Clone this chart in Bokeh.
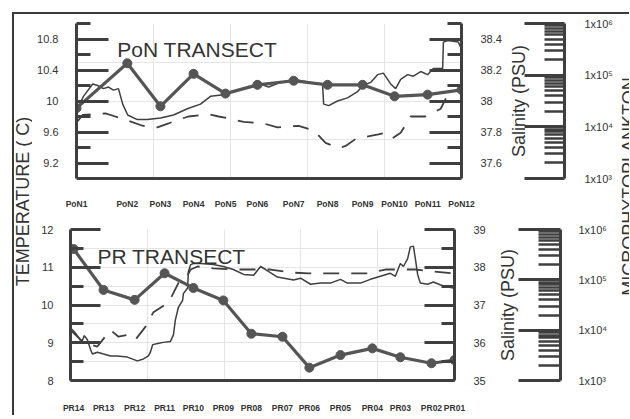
import math
from bokeh.plotting import figure
from bokeh.models import Range1d, LogScale, LinearAxis, FixedTicker, Label
from bokeh.layouts import row, column
from bokeh.embed import file_html
from bokeh.resources import INLINE

# ---------------- data ----------------
pon_stations = ["PoN1", "PoN2", "PoN3", "PoN4", "PoN5", "PoN6", "PoN7", "PoN8", "PoN9", "PoN10", "PoN11", "PoN12"]
pon_dist = [0, 13.2, 21.8, 30.4, 38.7, 47.0, 56.4, 65.2, 74.3, 82.6, 91.2, 100]
pon_plankton = [2.3e4, 1.7e5, 2.5e4, 1.06e5, 4.4e4, 6.5e4, 7.8e4, 6.5e4, 6.5e4, 3.9e4, 4.2e4, 5.2e4]

pon_sal_x = [0.3, 1.8, 4.2, 5.5, 7.0, 8.3, 9.6, 10.9, 12.0, 13.3, 15.8, 18.4, 21.8, 25.2, 28.8, 32.2,
             34.8, 38.2, 41.8, 45.2, 47.8, 49.9, 53.0, 56.4, 60.8, 63.9, 64.2, 65.5, 67.8, 70.4, 73.0,
             74.3, 76.4, 78.2, 79.7, 81.6, 82.9, 84.2, 86.0, 87.5, 89.4, 91.2, 92.7, 95.1, 95.3, 96.4,
             99.2, 99.7]
pon_sal = [37.95, 38.03, 38.11, 38.10, 38.08, 38.09, 38.07, 38.08, 37.98, 37.91, 37.88, 37.88, 37.89,
           37.91, 37.95, 37.98, 38.03, 38.04, 38.07, 38.09, 38.11, 38.09, 38.12, 38.14, 38.12, 38.11,
           37.98, 37.97, 38.00, 38.02, 38.06, 38.10, 38.12, 38.17, 38.18, 38.11, 38.08, 38.14, 38.17,
           38.16, 38.19, 38.17, 38.21, 38.21, 38.38, 38.39, 38.38, 38.35]

pon_temp_x = [0.3, 1.6, 4.2, 7.5, 10.1, 12.7, 16.6, 19.2, 21.0, 23.9, 26.5, 29.1, 34.3, 36.9, 39.2,
              43.4, 48.6, 52.2, 57.7, 61.6, 64.7, 68.1, 69.9, 72.5, 76.4, 78.4, 80.3, 82.1, 84.2,
              86.8, 90.6, 94.6, 96.4]
pon_temp = [9.74, 9.82, 9.83, 9.84, 9.80, 9.76, 9.69, 9.66, 9.66, 9.71, 9.76, 9.80, 9.83, 9.80, 9.78,
            9.73, 9.71, 9.66, 9.68, 9.62, 9.46, 9.39, 9.42, 9.51, 9.55, 9.57, 9.59, 9.52, 9.59, 9.80,
            9.80, 9.90, 10.08]

pr_stations = ["PR14", "PR13", "PR12", "PR11", "PR10", "PR09", "PR08", "PR07", "PR06", "PR05", "PR04",
               "PR03", "PR02", "PR01"]
pr_dist = [0.8, 8.6, 16.7, 24.5, 32.0, 39.8, 47.1, 55.2, 62.2, 70.3, 78.6, 85.9, 94.0, 100.0]
pr_plankton = [4.1e5, 6.3e4, 4.0e4, 1.35e5, 6.9e4, 3.9e4, 8.5e3, 7.4e3, 1.8e3, 3.2e3, 4.35e3, 2.9e3,
               2.2e3, 2.55e3]

pr_sal_x = [0.0, 1.0, 2.1, 2.9, 3.6, 4.4, 5.2, 5.7, 7.0, 8.6, 10.4, 12.2, 14.8, 17.4, 19.0, 20.3, 20.8,
            21.4, 22.7, 24.2, 26.0, 26.8, 27.3, 28.1, 29.2, 29.4, 30.5, 30.7, 31.3, 32.0, 33.9, 37.2,
            39.8, 42.4, 45.1, 47.7, 49.5, 50.8, 53.9, 58.1, 59.9, 62.5, 65.1, 67.7, 70.3, 72.1, 75.5,
            78.1, 80.7, 83.3, 84.6, 85.9, 86.7, 87.8, 88.5, 89.3, 89.8, 90.4, 91.1, 93.0, 94.5, 96.4,
            98.2, 99.7]
pr_sal = [36.39, 36.29, 36.14, 36.01, 36.19, 36.08, 35.83, 35.70, 35.75, 35.70, 35.65, 35.65, 35.62,
          35.52, 35.57, 35.65, 35.75, 35.95, 35.98, 36.01, 36.03, 36.21, 36.60, 36.94, 37.12, 37.30,
          37.45, 37.89, 38.07, 38.10, 38.10, 38.07, 38.02, 37.94, 37.81, 37.79, 38.02, 37.94, 37.74,
          37.66, 37.71, 37.55, 37.58, 37.58, 37.68, 37.58, 37.58, 37.68, 37.76, 37.84, 37.76, 38.10,
          38.02, 38.23, 38.54, 38.56, 38.23, 37.81, 37.58, 37.55, 37.61, 37.53, 37.48, 37.45]

pr_temp_x = [0.0, 2.6, 5.2, 7.0, 10.4, 12.5, 15.1, 16.9, 19.5, 21.6, 25.5, 28.1, 29.9, 31.3, 33.1,
             37.2, 42.4, 47.7, 52.1, 57.3, 62.0, 67.2, 72.1, 77.3, 82.0, 85.9, 89.8, 94.5, 99.7]
pr_temp = [9.34, 9.08, 8.95, 8.90, 9.34, 9.16, 9.21, 9.08, 9.42, 9.81, 10.06, 10.58, 10.68, 10.94,
           11.02, 10.97, 10.94, 10.94, 10.94, 10.86, 10.84, 10.84, 10.84, 10.84, 10.94, 10.94, 10.94,
           10.89, 10.84]

pon_temp_ticks = [9.2, 9.6, 10, 10.4, 10.8]
pon_temp_minor = [9.4, 9.8, 10.2, 10.6, 11.0]
pon_sal_ticks = [37.6, 37.8, 38, 38.2, 38.4]
pon_sal_minor = [37.7, 37.9, 38.1, 38.3, 38.5]
pr_temp_ticks = [8, 9, 10, 11, 12]
pr_temp_minor = [8.5, 9.5, 10.5, 11.5]
pr_sal_ticks = [35, 36, 37, 38, 39]
pr_sal_minor = [35.5, 36.5, 37.5, 38.5]
plankton_ticks = [1e3, 1e4, 1e5, 1e6]
plankton_tick_labels = ["1x10\u00b3", "1x10\u2074", "1x10\u2075", "1x10\u2076"]

INK = "#3f3f3f"
TXT = "#333333"
FONT = "Liberation Sans"


def style_axis(ax, major_in, minor_in, standoff, size="11px"):
    ax.axis_line_color = INK
    ax.axis_line_width = 3
    ax.major_tick_line_color = INK
    ax.major_tick_line_width = 3
    ax.minor_tick_line_color = INK
    ax.minor_tick_line_width = 3
    ax.major_tick_in = major_in
    ax.major_tick_out = 0
    ax.minor_tick_in = minor_in
    ax.minor_tick_out = 0
    ax.major_label_standoff = standoff
    ax.major_label_text_font = FONT
    ax.major_label_text_font_size = size
    ax.major_label_text_color = TXT


def panel(width, height, mb, trange, srange, tticks, tminor, sticks, sminor, tlong, tshort,
          stations, dist, plankton, sx, sy, tx, ty, title, title_xy, lstand, rstand, xstand):
    p = figure(width=width, height=height, x_range=Range1d(0, 100), y_range=Range1d(*trange),
               output_backend="svg", toolbar_location=None,
               x_axis_location=None, y_axis_location=None,
               min_border_left=mb[0], min_border_right=mb[1], min_border_top=mb[2],
               min_border_bottom=mb[3])
    p.outline_line_color = None
    p.background_fill_color = "white"
    p.border_fill_color = "white"
    p.extra_y_ranges = {"sal": Range1d(*srange), "plk": Range1d(1e3, 1e6)}
    p.extra_y_scales = {"plk": LogScale()}

    left = LinearAxis(ticker=FixedTicker(ticks=tticks, minor_ticks=tminor))
    style_axis(left, tlong, tshort, lstand)
    left.major_label_overrides = {10: "10"}
    p.add_layout(left, "left")

    right = LinearAxis(y_range_name="sal", ticker=FixedTicker(ticks=sticks, minor_ticks=sminor))
    style_axis(right, tlong, tshort, rstand)
    right.major_label_overrides = {38: "38"}
    p.add_layout(right, "right")

    bottom = LinearAxis(ticker=FixedTicker(ticks=dist, minor_ticks=[]))
    style_axis(bottom, 0, 0, xstand, size="8.5px")
    bottom.major_tick_line_color = None
    bottom.minor_tick_line_color = None
    bottom.major_label_text_font_style = "bold"
    bottom.major_label_overrides = dict(zip(dist, stations))
    p.add_layout(bottom, "below")

    p.line(tx, ty, line_color=INK, line_width=1.8, line_dash="16 12")
    p.line(sx, sy, y_range_name="sal", line_color=INK, line_width=1.5)
    p.line(dist, plankton, y_range_name="plk", line_color="#555555", line_width=3.2)
    p.scatter(dist, plankton, y_range_name="plk", marker="circle", size=9,
              fill_color="#555555", line_color="#555555")

    p.add_layout(Label(x=title_xy[0], y=title_xy[1], text=title, text_font=FONT,
                       text_font_size="21px", text_color=TXT, text_baseline="alphabetic"))
    return p


def plank_fig(width, height, mb, major_in, minor_in, standoff, sal_stand):
    k = figure(width=width, height=height, x_range=Range1d(0, 1), y_range=Range1d(1e3, 1e6),
               y_axis_type="log", y_axis_location="right", x_axis_location=None,
               output_backend="svg", toolbar_location=None,
               min_border_left=mb[0], min_border_right=mb[1], min_border_top=mb[2],
               min_border_bottom=mb[3])
    k.outline_line_color = None
    k.grid.visible = False
    ax = k.yaxis[0]
    ax.ticker = FixedTicker(ticks=plankton_ticks,
                            minor_ticks=[m * 10 ** e for e in (3, 4, 5) for m in range(2, 10)])
    style_axis(ax, major_in, minor_in, standoff)
    ax.minor_tick_line_width = 2.5
    ax.major_label_overrides = dict(zip(plankton_ticks, plankton_tick_labels))

    # salinity axis title (sits between the salinity scale and the plankton scale)
    lab = LinearAxis(ticker=FixedTicker(ticks=[], minor_ticks=[]))
    lab.axis_line_color = None
    lab.major_tick_line_color = None
    lab.minor_tick_line_color = None
    lab.major_tick_out = 0
    lab.major_label_standoff = 0
    lab.axis_label = "Salinity (PSU)"
    lab.axis_label_standoff = sal_stand
    lab.axis_label_text_font = FONT
    lab.axis_label_text_font_size = "18px"
    lab.axis_label_text_font_style = "normal"
    lab.axis_label_text_color = TXT
    k.add_layout(lab, "left")
    return k


ptop = panel(473, 203, (44, 44, 7, 39), (9, 11), (37.5, 38.5), pon_temp_ticks, pon_temp_minor,
             pon_sal_ticks, pon_sal_minor, 32, 14, pon_stations, pon_dist, pon_plankton,
             pon_sal_x, pon_sal, pon_temp_x, pon_temp, "PoN TRANSECT", (10.6, 10.67), 18, 19, 20)
pbot = panel(458, 198, (38, 36, 10, 33), (8, 12), (35, 39), pr_temp_ticks, pr_temp_minor,
             pr_sal_ticks, pr_sal_minor, 30, 13, pr_stations, pr_dist, pr_plankton,
             pr_sal_x, pr_sal, pr_temp_x, pr_temp, "PR TRANSECT", (7.0, 11.28), 17, 19, 22)

ktop = plank_fig(111, 203, (22, 49, 9, 37), 40, 20, 20, 1)
kbot = plank_fig(126, 198, (28, 56, 12, 33), 42, 22, 18, 1)

lfig = figure(width=18, height=401, x_range=Range1d(0, 18), y_range=Range1d(0, 401),
              output_backend="svg", toolbar_location=None, min_border=0,
              x_axis_location=None, y_axis_location=None)
lfig.outline_line_color = None
lfig.grid.visible = False
lfig.add_layout(Label(x=8, y=214, text="TEMPERATURE ( C)", angle=math.pi / 2, text_font=FONT,
                      text_font_size="18px", text_color=TXT, text_align="center",
                      text_baseline="middle"))

rfig = figure(width=13, height=401, x_range=Range1d(0, 13), y_range=Range1d(0, 401),
              output_backend="svg", toolbar_location=None, min_border=0,
              x_axis_location=None, y_axis_location=None)
rfig.outline_line_color = None
rfig.grid.visible = False
rfig.add_layout(Label(x=12, y=229, text="MICROPHYTOPLANKTON", angle=math.pi / 2, text_font=FONT,
                      text_font_size="18px", text_color=TXT, text_align="center",
                      text_baseline="middle"))

root = row(lfig, column(row(ptop, ktop), row(pbot, kbot)), rfig,
           styles={"margin-left": "12px", "margin-top": "12px",
                   "border-left": "2px solid #3a3a3a", "border-top": "2px solid #3a3a3a"})

open("out.html", "w").write(file_html(root, INLINE))
